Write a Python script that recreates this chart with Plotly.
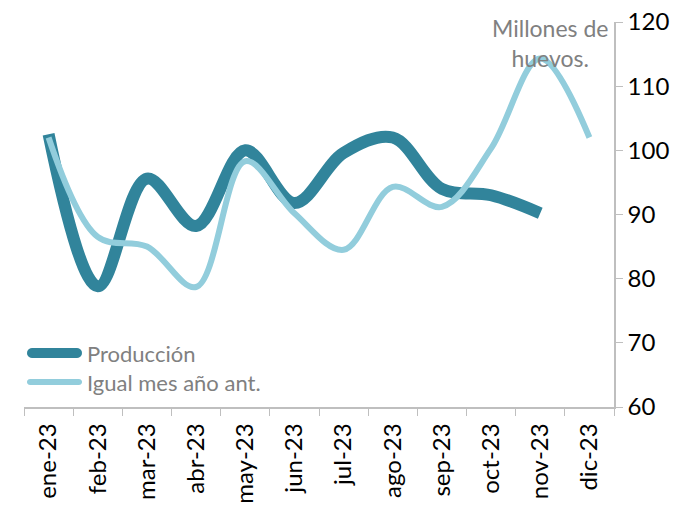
import math
import plotly.graph_objects as go

months = ["ene-23", "feb-23", "mar-23", "abr-23", "may-23", "jun-23",
          "jul-23", "ago-23", "sep-23", "oct-23", "nov-23", "dic-23"]
produccion = [102.5, 78.8, 95.6, 88.2, 100.0, 91.8, 99.6, 102.0, 94.0, 93.0, 90.2]
igual_mes_ant = [102.0, 86.5, 85.0, 78.7, 98.3, 90.2, 84.5, 94.3, 91.2, 100.3, 114.3, 102.0]
y_ticks = [60, 70, 80, 90, 100, 110, 120]

DARK = "#31849B"
LIGHT = "#92CDDC"
GREY_TEXT = "#808080"
AXIS = "#BFBFBF"
FONT = "Lato"

W, H = 691, 505
L, R, T, B = 24, 77, 22, 98
PW, PH = W - L - R, H - T - B


def px_x(px):
    return (px - L) / PW


def px_y(py):
    return (H - B - py) / PH


def stadium_path(x0, x1, cy, thick, steps=10):
    """Closed pill outline in paper coordinates, built from pixel positions."""
    r = thick / 2
    pts = []
    for i in range(steps + 1):
        a = -math.pi / 2 + math.pi * i / steps
        pts.append((x1 - r + r * math.cos(a), cy + r * math.sin(a)))
    for i in range(steps + 1):
        a = math.pi / 2 + math.pi * i / steps
        pts.append((x0 + r + r * math.cos(a), cy + r * math.sin(a)))
    d = " L ".join(f"{px_x(px):.5f},{px_y(py):.5f}" for px, py in pts)
    return "M " + d + " Z"


fig = go.Figure()
series = [("Producción", produccion, DARK, 12), ("Igual mes año ant.", igual_mes_ant, LIGHT, 6)]
for name, vals, color, width in series:
    fig.add_trace(go.Scatter(
        x=months[:len(vals)], y=vals, name=name, mode="lines",
        line=dict(color=color, width=width, shape="spline", smoothing=1.0),
        showlegend=False,
    ))

# legend: rounded keys with labels beside them
legend_rows = [("Producción", DARK, 10, 353), ("Igual mes año ant.", LIGHT, 6, 382)]
key_x0, key_x1 = 27, 82
for label, color, thick, cy in legend_rows:
    fig.add_shape(type="path", xref="paper", yref="paper",
                  path=stadium_path(key_x0, key_x1, cy, thick),
                  fillcolor=color, line=dict(width=0))
    fig.add_annotation(
        text=label, xref="paper", yref="paper", x=px_x(key_x1 + 3), y=px_y(cy),
        xanchor="left", yanchor="middle", showarrow=False,
        font=dict(family=FONT, size=22, color=GREY_TEXT),
    )

fig.add_annotation(
    text="Millones de<br>huevos.", xref="paper", yref="paper",
    x=px_x(550), y=px_y(12), xanchor="center", yanchor="top", showarrow=False,
    font=dict(family=FONT, size=23, color=GREY_TEXT), align="center",
)

fig.update_layout(
    width=W, height=H,
    margin=dict(l=L, r=R, t=T, b=B, autoexpand=False),
    paper_bgcolor="white", plot_bgcolor="white",
    font=dict(family=FONT, color="black"),
    showlegend=False,
    xaxis=dict(
        type="category", categoryorder="array", categoryarray=months,
        range=[-0.5, 11.5], showgrid=False, zeroline=False, automargin=False,
        showline=True, linecolor=AXIS, linewidth=1.5,
        ticks="outside", ticklen=7, tickcolor=AXIS, tickson="boundaries",
        tickangle=-90, ticklabelstandoff=5,
        tickfont=dict(family=FONT, size=24, color="black"),
    ),
    yaxis=dict(
        side="right", range=[60, 120], tickvals=y_ticks, automargin=False,
        showgrid=False, zeroline=False,
        showline=True, linecolor=AXIS, linewidth=1.5,
        ticks="outside", ticklen=7, tickcolor=AXIS,
        tickfont=dict(family=FONT, size=24, color="black"),
    ),
)

fig.write_html("out.html")
